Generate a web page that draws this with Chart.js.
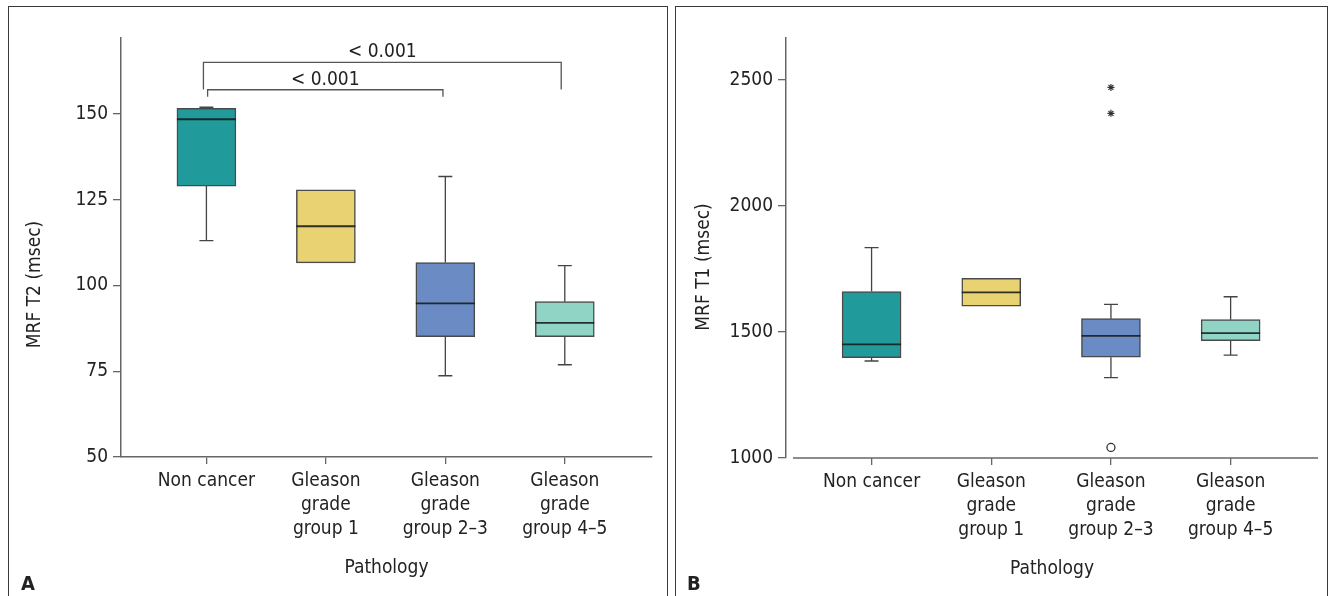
<!DOCTYPE html>
<html><head><meta charset="utf-8">
<script src="https://cdn.jsdelivr.net/npm/chart.js@4.4.1/dist/chart.umd.min.js"></script>
<style>
html,body{margin:0;padding:0;background:#fff;width:1328px;height:596px;overflow:hidden;}
.panel{position:absolute;top:0;height:596px;}
#pa{left:0;width:668px;}
#pb{left:668px;width:660px;}
.frame{position:absolute;top:6px;height:600px;border:1.5px solid #3a3a3a;border-bottom:none;box-sizing:border-box;}
.letter{position:absolute;font:bold 20px 'Liberation Sans Narrow','DejaVu Sans Condensed','Liberation Sans',sans-serif;color:#222;}
</style></head><body>
<div class="frame" style="left:8px;width:660px"></div>
<div class="frame" style="left:675px;width:653px"></div>
<div class="panel" id="pa"><canvas id="ca" width="668" height="596" style="width:668px;height:596px"></canvas></div>
<div class="panel" id="pb"><canvas id="cb" width="660" height="596" style="width:660px;height:596px"></canvas></div>
<div class="letter" style="left:21px;top:571px">A</div>
<div class="letter" style="left:687px;top:571px">B</div>
<script>
// ---------- data ----------
const categories = [["Non cancer"], ["Gleason", "grade", "group 1"], ["Gleason", "grade", "group 2–3"], ["Gleason", "grade", "group 4–5"]];
const boxColors = ["#219a9b", "#e8d272", "#6a8bc3", "#90d4c5"];

// Panel A: MRF T2 (msec)
const t2WhiskerLow  = [113.1, 106.6, 73.7, 76.9];
const t2Q1          = [129.0, 106.6, 85.1, 85.1];
const t2Median      = [148.5, 117.3, 94.8, 89.1];
const t2Q3          = [151.7, 127.9, 106.7, 95.3];
const t2WhiskerHigh = [152.0, 127.9, 131.8, 105.8];
const t2Ticks = [50, 75, 100, 125, 150];

// significance brackets (panel A)
const bracketLabels = ["< 0.001", "< 0.001"];
const bracketFrom = [-0.025, 0.01];
const bracketTo = [2.97, 1.98];
const bracketTop = [165.1, 157.1];
const bracketEnd = [157.2, 155.05];

// Panel B: MRF T1 (msec)
const t1WhiskerLow  = [1385, 1603, 1319, 1408];
const t1Q1          = [1398, 1603, 1400, 1466];
const t1Median      = [1451, 1657, 1485, 1496];
const t1Q3          = [1661, 1713, 1553, 1549];
const t1WhiskerHigh = [1835, 1713, 1610, 1640];
const t1Ticks = [1000, 1500, 2000, 2500];
const t1OutlierX = [2];
const t1OutlierY = [1042];
const t1ExtremeX = [2, 2];
const t1ExtremeY = [2471, 2368];

// ---------- helpers ----------
const FONT = "'Liberation Sans Narrow','DejaVu Sans Condensed','Liberation Sans',sans-serif";
const FS = 19;
const TXT = '#222';
const AXIS = '#666';

function boxExtras(low, q1, med, q3, high) {
  return {
    id: 'boxExtras',
    afterDatasetsDraw(chart) {
      const {ctx, scales: {x, y}} = chart;
      const half = 29.5, cap = 7;
      ctx.save();
      ctx.lineCap = 'butt';
      for (let i = 0; i < med.length; i++) {
        const px = x.getPixelForValue(i);
        ctx.strokeStyle = '#444';
        ctx.lineWidth = 1.3;
        if (high[i] > q3[i]) {
          ctx.beginPath();
          ctx.moveTo(px, y.getPixelForValue(q3[i]));
          ctx.lineTo(px, y.getPixelForValue(high[i]));
          ctx.moveTo(px - cap, y.getPixelForValue(high[i]));
          ctx.lineTo(px + cap, y.getPixelForValue(high[i]));
          ctx.stroke();
        }
        if (low[i] < q1[i]) {
          ctx.beginPath();
          ctx.moveTo(px, y.getPixelForValue(q1[i]));
          ctx.lineTo(px, y.getPixelForValue(low[i]));
          ctx.moveTo(px - cap, y.getPixelForValue(low[i]));
          ctx.lineTo(px + cap, y.getPixelForValue(low[i]));
          ctx.stroke();
        }
        ctx.strokeStyle = 'rgba(25,30,30,0.9)';
        ctx.lineWidth = 1.8;
        ctx.beginPath();
        ctx.moveTo(px - half, y.getPixelForValue(med[i]));
        ctx.lineTo(px + half, y.getPixelForValue(med[i]));
        ctx.stroke();
      }
      ctx.restore();
    }
  };
}

function yTitle(text, dx, dy) {
  return {
    id: 'yTitle',
    afterDraw(chart) {
      const {ctx, chartArea} = chart;
      ctx.save();
      ctx.translate(dx, (chartArea.top + chartArea.bottom) / 2 + dy);
      ctx.rotate(-Math.PI / 2);
      ctx.font = FS + 'px ' + FONT;
      ctx.fillStyle = TXT;
      ctx.textAlign = 'center';
      ctx.textBaseline = 'middle';
      ctx.fillText(text, 0, 0);
      ctx.restore();
    }
  };
}

// x axis line drawn with a small gap from the y axis (panel B style)
function xAxisLine(gap) {
  return {
    id: 'xAxisLine',
    afterDraw(chart) {
      const {ctx, chartArea} = chart;
      ctx.save();
      ctx.strokeStyle = AXIS;
      ctx.lineWidth = 1.5;
      ctx.beginPath();
      ctx.moveTo(chartArea.left + gap, chartArea.bottom);
      ctx.lineTo(chartArea.right, chartArea.bottom);
      ctx.stroke();
      ctx.restore();
    }
  };
}

const bracketPlugin = {
  id: 'brackets',
  afterDatasetsDraw(chart) {
    const {ctx, scales: {x, y}} = chart;
    ctx.save();
    ctx.strokeStyle = '#555';
    ctx.lineWidth = 1.3;
    ctx.font = FS + 'px ' + FONT;
    ctx.fillStyle = TXT;
    ctx.textAlign = 'center';
    ctx.textBaseline = 'alphabetic';
    for (let i = 0; i < bracketLabels.length; i++) {
      const x0 = x.getPixelForValue(bracketFrom[i]);
      const x1 = x.getPixelForValue(bracketTo[i]);
      const yt = y.getPixelForValue(bracketTop[i]);
      const ye = y.getPixelForValue(bracketEnd[i]);
      ctx.beginPath();
      ctx.moveTo(x0, ye); ctx.lineTo(x0, yt); ctx.lineTo(x1, yt); ctx.lineTo(x1, ye);
      ctx.stroke();
      ctx.fillText(bracketLabels[i], (x0 + x1) / 2, yt - 5);
    }
    ctx.restore();
  }
};

function makeChart(canvasId, cfg) {
  const boxes = cfg.q1.map((v, i) => ({x: i, y: [v, cfg.q3[i]]}));
  const datasets = [{
    type: 'bar',
    data: boxes,
    backgroundColor: boxColors,
    borderColor: '#4a4a4a',
    borderWidth: 1.5,
    borderSkipped: false,
    barThickness: 59,
    grouped: false
  }];
  (cfg.scatter || []).forEach(s => datasets.push(s));
  return new Chart(document.getElementById(canvasId), {
    type: 'bar',
    data: {datasets},
    options: {
      responsive: false,
      animation: false,
      events: [],
      layout: {padding: cfg.padding},
      plugins: {legend: {display: false}, tooltip: {enabled: false}},
      scales: {
        x: {
          type: 'linear',
          offset: false,
          min: -0.715, max: 3.73,
          afterBuildTicks: s => { s.ticks = categories.map((c, i) => ({value: i})); },
          afterFit: s => { s.height = 125; },
          ticks: {
            callback: v => categories[v],
            color: TXT, padding: 5, maxRotation: 0, autoSkip: false,
            font: {family: FONT, size: FS, lineHeight: '24px'}
          },
          grid: {display: true, offset: false, drawOnChartArea: false, drawTicks: true, tickLength: 7, color: AXIS, lineWidth: 1.3},
          border: {display: !cfg.xGap, color: AXIS, width: 1.5},
          title: {display: true, text: 'Pathology', color: TXT, padding: {top: 0, bottom: 3},
                  font: {family: FONT, size: FS, lineHeight: 1.2}}
        },
        y: {
          type: 'linear',
          min: cfg.ymin, max: cfg.ymax,
          afterBuildTicks: s => { s.ticks = cfg.ticks.map(v => ({value: v})); },
          afterFit: s => { s.width = 60; },
          ticks: {color: TXT, padding: 5, font: {family: FONT, size: FS}, callback: v => String(v)},
          grid: {display: true, drawOnChartArea: false, drawTicks: true, tickLength: 8, color: AXIS, lineWidth: 1.3},
          border: {display: true, color: AXIS, width: 1.5}
        }
      }
    },
    plugins: cfg.plugins
  });
}

makeChart('ca', {
  q1: t2Q1, q3: t2Q3, ymin: 50, ymax: 172.2, ticks: t2Ticks,
  padding: {left: 61, right: 16, top: 38, bottom: 14},
  plugins: [boxExtras(t2WhiskerLow, t2Q1, t2Median, t2Q3, t2WhiskerHigh), bracketPlugin, yTitle('MRF T2 (msec)', 35, 37)]
});

makeChart('cb', {
  q1: t1Q1, q3: t1Q3, ymin: 1000, ymax: 2667, ticks: t1Ticks, xGap: true,
  padding: {left: 58, right: 10, top: 38, bottom: 13},
  scatter: [
    {type: 'scatter', data: t1OutlierX.map((v, i) => ({x: v, y: t1OutlierY[i]})),
     pointStyle: 'circle', radius: 4, backgroundColor: '#fff', borderColor: '#333', borderWidth: 1.3},
    {type: 'scatter', data: t1ExtremeX.map((v, i) => ({x: v, y: t1ExtremeY[i]})),
     pointStyle: 'star', radius: 3.5, backgroundColor: '#333', borderColor: '#333', borderWidth: 1.2}
  ],
  plugins: [boxExtras(t1WhiskerLow, t1Q1, t1Median, t1Q3, t1WhiskerHigh), xAxisLine(7), yTitle('MRF T1 (msec)', 36, 19)]
});
</script>
</body></html>
